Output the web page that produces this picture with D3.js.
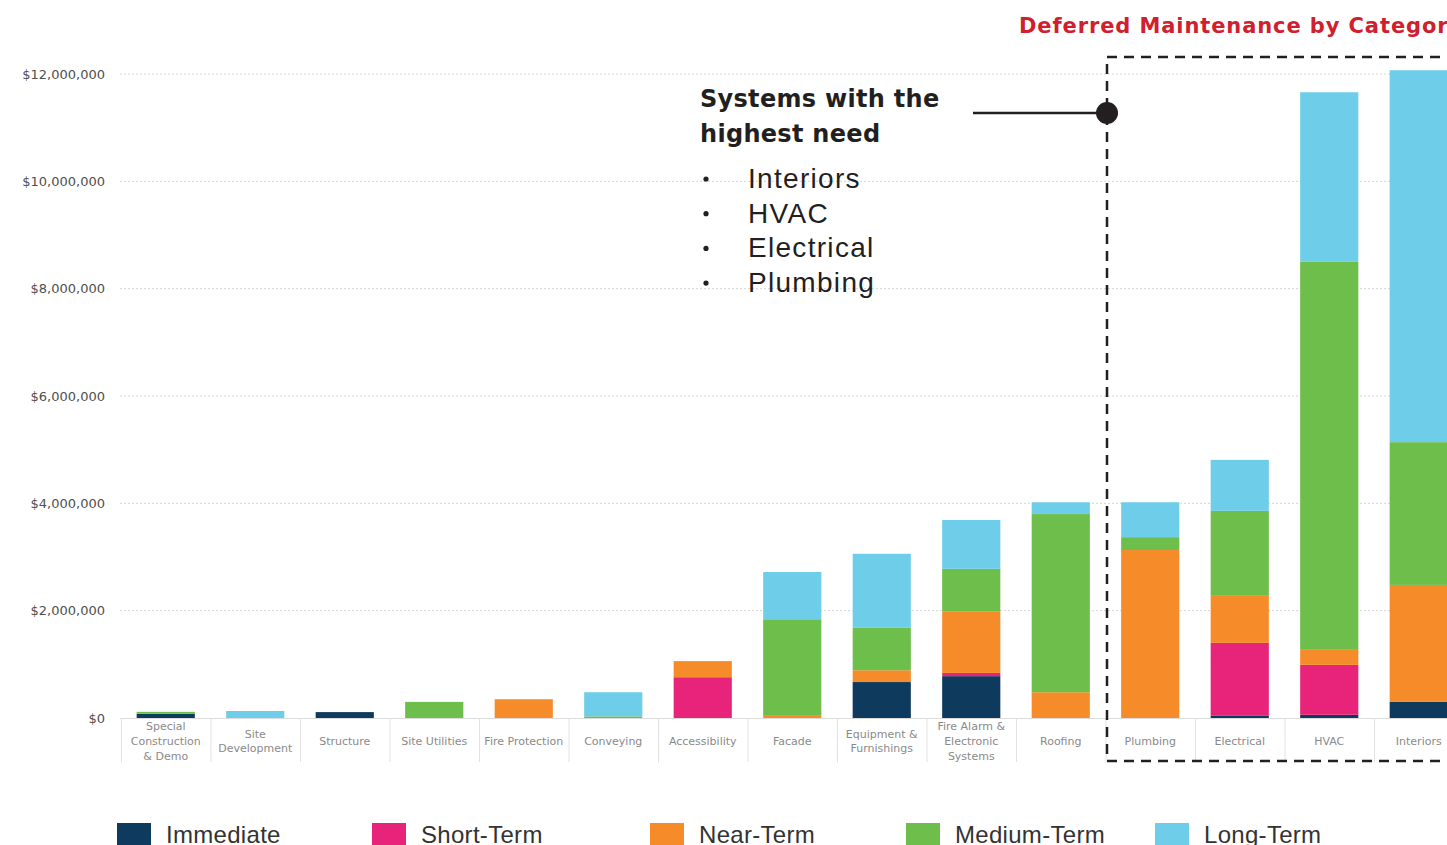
<!DOCTYPE html>
<html>
<head>
<meta charset="utf-8">
<script src="https://cdn.jsdelivr.net/npm/d3@7"></script>
<style>
  html, body { margin: 0; padding: 0; background: #fff; overflow: hidden; }
  svg { display: block; }
</style>
</head>
<body>
<svg id="chart" width="1447" height="845"></svg>
<script>
// categories along the x axis (lines split with \n)
const categories = [
  "Special\nConstruction\n& Demo", "Site\nDevelopment", "Structure", "Site Utilities",
  "Fire Protection", "Conveying", "Accessibility", "Facade",
  "Equipment &\nFurnishings", "Fire Alarm &\nElectronic\nSystems", "Roofing",
  "Plumbing", "Electrical", "HVAC", "Interiors"
]
const seriesNames = ["Immediate", "Short-Term", "Near-Term", "Medium-Term", "Long-Term"]
const seriesColors = ["#0e3a5d", "#e8237a", "#f68b2a", "#6dbe4b", "#6ecde9"]

// values in dollars, one entry per category
const immediate  = [80000, 0, 110000, 0, 0, 0, 0, 0, 670000, 780000, 0, 0, 40000, 60000, 300000]
const shortTerm  = [0, 0, 0, 0, 0, 0, 760000, 0, 0, 60000, 0, 0, 1360000, 930000, 0]
const nearTerm   = [0, 0, 0, 0, 350000, 0, 300000, 40000, 220000, 1140000, 480000, 3130000, 890000, 280000, 2180000]
const mediumTerm = [35000, 0, 0, 300000, 0, 30000, 0, 1800000, 790000, 800000, 3320000, 240000, 1570000, 7230000, 2660000]
const longTerm   = [0, 130000, 0, 0, 0, 450000, 0, 880000, 1380000, 910000, 220000, 650000, 950000, 3160000, 6930000]

const yTicks = [0, 2000000, 4000000, 6000000, 8000000, 10000000, 12000000]
const highlights = ["Interiors", "HVAC", "Electrical", "Plumbing"]

const svg = d3.select("#chart")

const x = d3.scaleBand().domain(categories).range([121, 121 + 15 * 89.5])
const y = d3.scaleLinear().domain([0, 12000000]).range([718, 74])
const barW = x.bandwidth() * 0.65

// gridlines + y labels
svg.append("g").selectAll("line")
  .data(yTicks.filter(d => d > 0))
  .enter().append("line")
  .attr("x1", 120).attr("x2", 1447)
  .attr("y1", d => y(d)).attr("y2", d => y(d))
  .attr("stroke", "#d4d4d4")
  .attr("stroke-width", 1)
  .attr("stroke-dasharray", "2,2")

const fmt = d3.format("$,")
svg.append("g").selectAll("text")
  .data(yTicks)
  .enter().append("text")
  .attr("x", 105)
  .attr("y", d => y(d) + 4.5)
  .attr("text-anchor", "end")
  .style("font", "13px 'DejaVu Sans', sans-serif")
  .attr("fill", "#4f4f4f")
  .text(d => fmt(d))

// stacked bars
const rows = categories.map((c, i) => ({
  cat: c,
  "Immediate": immediate[i], "Short-Term": shortTerm[i], "Near-Term": nearTerm[i],
  "Medium-Term": mediumTerm[i], "Long-Term": longTerm[i]
}))
const stacked = d3.stack().keys(seriesNames)(rows)

svg.append("g").selectAll("g")
  .data(stacked)
  .enter().append("g")
  .attr("fill", (d, i) => seriesColors[i])
  .selectAll("rect")
  .data(d => d)
  .enter().append("rect")
  .attr("x", d => x(d.data.cat) + (x.bandwidth() - barW) / 2)
  .attr("width", barW)
  .attr("y", d => y(d[1]))
  .attr("height", d => y(d[0]) - y(d[1]))

// x axis baseline + separators + labels
svg.append("line")
  .attr("x1", 120).attr("x2", 1447)
  .attr("y1", y(0) + 0.5).attr("y2", y(0) + 0.5)
  .attr("stroke", "#dcdcdc")

svg.append("g").selectAll("line")
  .data(categories)
  .enter().append("line")
  .attr("x1", d => x(d) + 0.5).attr("x2", d => x(d) + 0.5)
  .attr("y1", y(0)).attr("y2", 762)
  .attr("stroke", "#e2e2e2")

const lbl = svg.append("g").selectAll("text")
  .data(categories)
  .enter().append("text")
  .attr("text-anchor", "middle")
  .style("font", "11px 'DejaVu Sans', sans-serif")
  .attr("fill", "#8a8a8a")
lbl.each(function(d) {
  const lines = d.split("\n")
  const cx = x(d) + x.bandwidth() / 2
  const top = 745 - (lines.length - 1) * 7.3
  d3.select(this).selectAll("tspan")
    .data(lines)
    .enter().append("tspan")
    .attr("x", cx)
    .attr("y", (l, i) => top + i * 14.6)
    .text(l => l)
})

// highlight box
const bx = x("Plumbing") + 1.5
svg.append("path")
  .attr("d", `M${1447 + 10},57 H${bx} V761 H${1447 + 10}`)
  .attr("fill", "none")
  .attr("stroke", "#231f20")
  .attr("stroke-width", 2.5)
  .attr("stroke-dasharray", "10,7")

svg.append("line")
  .attr("x1", 973).attr("x2", bx)
  .attr("y1", 113).attr("y2", 113)
  .attr("stroke", "#231f20").attr("stroke-width", 2.5)
svg.append("circle")
  .attr("cx", bx).attr("cy", 113).attr("r", 11)
  .attr("fill", "#231f20")

// title
svg.append("text")
  .attr("x", 1019).attr("y", 33)
  .style("font", "bold 21px 'DejaVu Sans', sans-serif")
  .style("letter-spacing", "0.9px")
  .attr("fill", "#d0202e")
  .text("Deferred Maintenance by Category")

// annotation
const note = svg.append("g")
note.selectAll("text.head")
  .data(["Systems with the", "highest need"])
  .enter().append("text")
  .attr("class", "head")
  .attr("x", 700)
  .attr("y", (d, i) => 107 + i * 35)
  .style("font", "bold 24px 'DejaVu Sans', sans-serif")
  .style("letter-spacing", "0.3px")
  .attr("fill", "#231f20")
  .text(d => d)

const items = note.selectAll("g.item")
  .data(highlights)
  .enter().append("g")
  .attr("class", "item")
  .attr("transform", (d, i) => `translate(0,${188 + i * 34.7})`)
items.append("circle")
  .attr("cx", 706).attr("cy", -9).attr("r", 2.6)
  .attr("fill", "#231f20")
items.append("text")
  .attr("x", 748)
  .style("font", "28px 'Liberation Sans', sans-serif")
  .style("letter-spacing", "1.3px")
  .attr("fill", "#231f20")
  .text(d => d)

// legend
const legendX = [117, 372, 650, 906, 1155]
const leg = svg.append("g").selectAll("g")
  .data(seriesNames)
  .enter().append("g")
  .attr("transform", (d, i) => `translate(${legendX[i]},823)`)
leg.append("rect")
  .attr("width", 34).attr("height", 24)
  .attr("fill", (d, i) => seriesColors[i])
leg.append("text")
  .attr("x", 49).attr("y", 20)
  .style("font", "24px 'Liberation Sans', sans-serif")
  .style("letter-spacing", "0.3px")
  .attr("fill", "#333")
  .text(d => d)
</script>
</body>
</html>
